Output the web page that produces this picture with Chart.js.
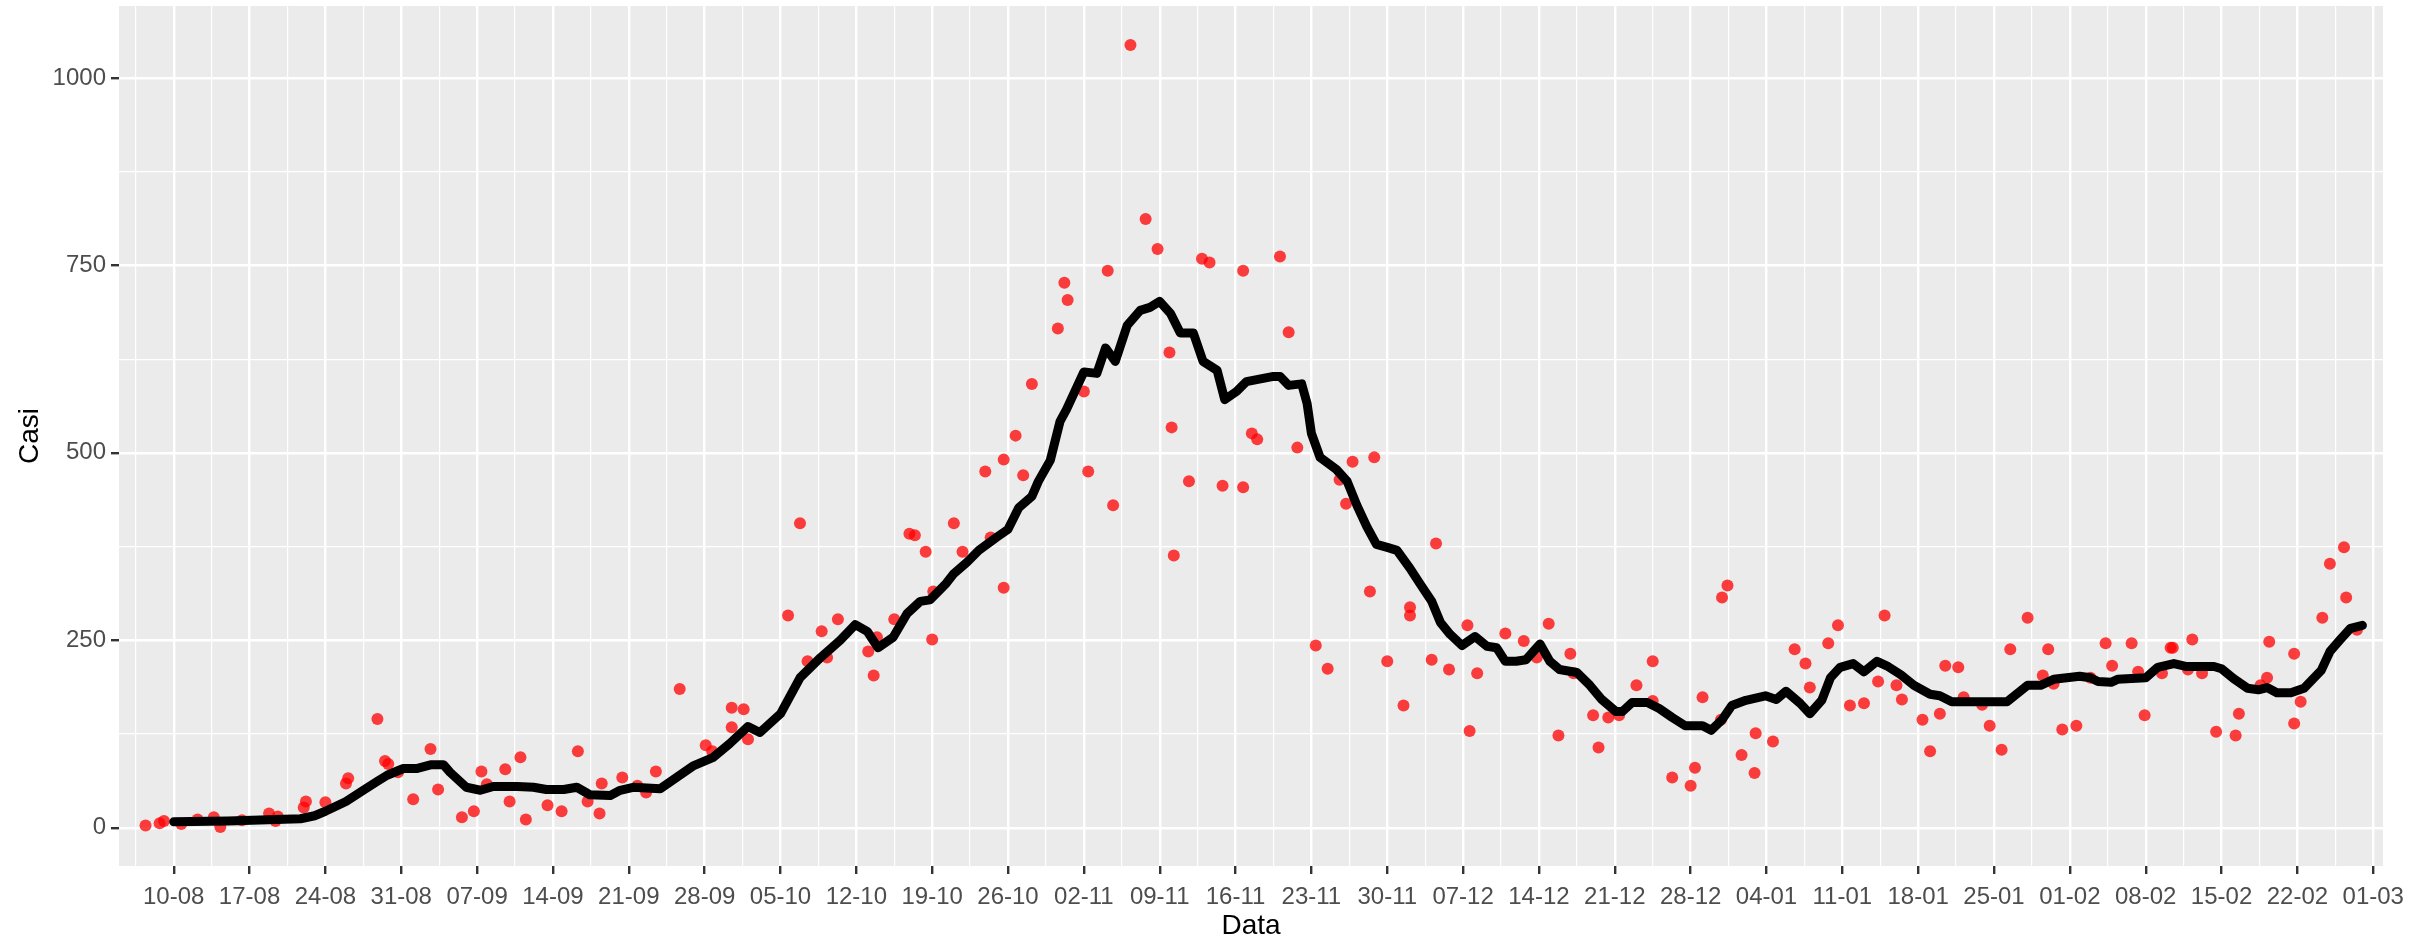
<!DOCTYPE html>
<html>
<head>
<meta charset="utf-8">
<script src="https://cdn.jsdelivr.net/npm/chart.js@4.4.0/dist/chart.umd.min.js"></script>
<style>
  html, body { margin: 0; padding: 0; background: #ffffff; }
  canvas { display: block; }
</style>
</head>
<body>
<canvas id="casiChart" width="2428" height="943"></canvas>
<script>
// Etichette delle date (una ogni 7 giorni, giorno 0 = 10-08)
const tickLabels = ['10-08', '17-08', '24-08', '31-08', '07-09', '14-09', '21-09', '28-09', '05-10', '12-10',
    '19-10', '26-10', '02-11', '09-11', '16-11', '23-11', '30-11', '07-12', '14-12', '21-12',
    '28-12', '04-01', '11-01', '18-01', '25-01', '01-02', '08-02', '15-02', '22-02', '01-03'];
const yLabels = [0, 250, 500, 750, 1000];

// Casi giornalieri (punti rossi, con jitter orizzontale)
const pointDays = [-2.6, -1.3, -0.9, 0.7, 2.2, 3.7, 4.3, 6.3, 8.8, 9.4, 9.6, 12.0, 12.2, 14.0, 15.9, 16.1, 18.8, 19.5, 19.8, 20.7, 22.1,
    23.7, 24.4, 26.6, 27.7, 28.4, 28.9, 30.6, 31.0, 32.0, 32.5, 34.5, 35.8, 37.3, 38.2, 39.3, 39.5, 41.4, 42.8, 43.6, 44.5, 46.7,
    49.1, 49.7, 51.5, 51.5, 52.6, 53.0, 56.7, 57.8, 58.5, 59.8, 60.3, 61.3, 64.1, 64.6, 64.9, 66.5, 67.9, 68.4, 69.4, 70.0, 70.1, 72.0, 72.8,
    74.9, 75.4, 76.6, 76.6, 77.7, 78.4, 79.2, 81.6, 82.2, 82.5, 84.0, 84.4, 86.2, 86.7, 88.3, 89.7, 90.8, 91.9, 92.1, 92.3, 93.7, 94.9, 95.6, 96.8, 98.7, 98.7, 99.5, 100.0,
    102.1, 102.9, 103.7, 105.4, 106.5, 107.6, 108.2, 108.8, 110.4, 110.8, 112.0, 113.5, 114.1, 114.1, 116.1, 116.5, 117.7, 119.4, 119.6, 120.3, 122.9, 124.6, 125.8,
    126.9, 127.8, 128.9, 129.2, 131.0, 131.5, 132.4, 133.4, 135.0, 136.5, 136.5, 138.3, 140.0, 140.4, 141.1, 142.8, 142.9, 143.4, 144.7, 145.9, 146.0, 147.6, 149.6, 150.6, 151.0,
    152.7, 153.6, 154.7, 156.0, 157.3, 157.9, 159.0, 159.5, 161.4, 162.1, 163.0, 163.5, 164.7, 165.2, 166.9, 167.6, 168.7, 169.5, 171.1, 172.5, 173.0, 173.5, 174.3, 175.6, 176.9,
    178.3, 178.9, 180.7, 181.3, 181.9, 183.5, 184.3, 184.5, 185.9, 186.3, 187.2, 188.5, 190.3, 190.6, 192.6, 193.2, 193.4, 195.7, 195.7, 196.3, 198.3, 199.0, 200.3, 200.5, 201.5];
const pointValues = [3, 6, 9, 5, 11, 14, 1, 10, 19, 9, 15, 27, 35, 34, 59, 66, 145, 89, 85, 74, 38,
    105, 51, 14, 22, 75, 58, 78, 35, 94, 11, 30, 22, 102, 35, 19, 59, 67, 56, 47, 75, 185,
    110, 102, 160, 134, 158, 118, 283, 406, 222, 262, 227, 278, 235, 203, 254, 278, 392, 390, 368, 251, 315, 406, 368,
    475, 387, 320, 491, 523, 470, 592, 666, 727, 704, 582, 475, 743, 430, 1044, 812, 772, 634, 534, 363, 462, 759, 754, 456, 743, 454, 526, 518,
    762, 661, 507, 243, 212, 464, 432, 488, 315, 494, 222, 163, 294, 283, 224, 379, 211, 270, 129, 206, 259, 249, 227,
    272, 123, 232, 206, 150, 107, 147, 150, 190, 222, 169, 67, 56, 80, 174, 144, 307, 323, 97, 73, 126, 115, 238, 219, 187,
    246, 270, 163, 166, 195, 283, 190, 171, 144, 102, 152, 216, 214, 174, 164, 136, 104, 238, 280, 203, 238, 192, 131, 136, 200,
    246, 216, 246, 208, 150, 206, 240, 240, 211, 251, 206, 128, 123, 152, 190, 200, 248, 232, 139, 168, 280, 352, 374, 307, 264];

// Media mobile (linea nera)
const lineDays = [0, 5, 11.7, 13, 14, 15.9, 17.5, 18.8, 19.7, 21.2, 22.4, 23.7, 24.9, 25.5, 27.0, 28.3, 29.5, 31.7, 33.2, 34.4, 36.0, 37.2, 38.4, 40.3, 41.2, 42.4, 44.9, 46.7, 48.0,
    49.8, 51.3, 53.0, 54.1, 56.0, 57.8, 59.7, 61.5, 62.9, 64.0, 65.0, 66.4, 67.7, 68.9, 69.8, 71.3, 72.0, 73.2, 74.3, 75.9, 77.0, 78.0, 79.2, 79.8, 80.9, 81.8, 82.4,
    84.0, 85.2, 86.0, 86.9, 88.0, 89.2, 90.1, 91.0, 92.0, 92.9, 94.1, 95.0, 96.3, 97.0, 98.1, 99.0, 101.5, 102.1, 102.9, 104.1, 104.6, 105.0, 105.8, 107.3, 108.3,
    109.2, 110.1, 111.0, 112.0, 112.9, 114.1, 115.0, 116.1, 116.9, 117.8, 118.9, 120.1, 121.2, 122.1, 122.9, 123.9, 124.8, 126.1, 127.0, 127.9, 129.5, 130.7, 131.8,
    133.1, 133.7, 134.6, 136.0, 137.1, 138.3, 139.5, 141.1, 141.9, 142.9, 143.8, 145.1, 146.9, 147.9, 148.8, 150.1, 151.0, 152.1, 152.9, 153.8, 155.0, 156.0, 157.2,
    158.1, 159.4, 160.6, 162.1, 163.0, 164.1, 169.2, 171.1, 172.3, 173.5, 174.7, 175.9, 176.9, 177.6, 178.8, 179.4, 182.0, 183.1, 184.6, 185.8, 188.3, 189.0, 190.1,
    191.4, 192.4, 193.2, 194.1, 195.4, 196.6, 198.2, 199.0, 199.9, 200.9, 202.0];
const lineValues = [8, 9, 12, 16, 22, 35, 50, 62, 70, 79, 79, 84, 84, 74, 54, 50, 55, 55, 54, 51, 51, 54, 44, 43, 50, 54, 52, 70, 83,
    94, 112, 135, 127, 152, 200, 227, 250, 271, 262, 240, 254, 286, 302, 304, 326, 339, 354, 370, 387, 398, 427, 442, 462, 490, 542, 558,
    608, 606, 640, 622, 670, 690, 694, 702, 686, 660, 660, 622, 610, 571, 582, 595, 602, 602, 590, 592, 566, 526, 494, 478, 462,
    430, 402, 378, 374, 370, 346, 326, 302, 274, 258, 243, 255, 242, 240, 222, 222, 224, 245, 222, 211, 207, 190, 171,
    155, 155, 167, 167, 159, 147, 136, 136, 130, 144, 163, 170, 176, 171, 182, 166, 152, 170, 200, 214, 219, 208, 222,
    216, 204, 190, 178, 176, 168, 168, 190, 190, 198, 200, 202, 200, 195, 194, 198, 200, 214, 219, 215, 215, 212, 199,
    186, 184, 187, 180, 180, 186, 210, 235, 250, 266, 270];

const majorX = tickLabels.map((_, i) => i * 7);
const minorX = majorX.map(d => d - 3.5);
const xTicks = [...minorX, ...majorX].sort((a, b) => a - b);
const yTicks = [];
yLabels.forEach(v => { yTicks.push(v); if (v < 1000) yTicks.push(v + 125); });

// Sfondo grigio del pannello (stile ggplot)
const panelBg = {
    id: 'panelBg',
    beforeDraw(chart) {
        const { ctx, chartArea: { left, top, right, bottom } } = chart;
        ctx.save();
        ctx.fillStyle = '#EBEBEB';
        ctx.fillRect(left, top, right - left, bottom - top);
        ctx.restore();
    }
};

const isMajorX = v => majorX.includes(v);
const isMajorY = v => yLabels.includes(v);

const ctx = document.getElementById('casiChart').getContext('2d');
new Chart(ctx, {
    type: 'scatter',
    data: {
        datasets: [{
            data: lineDays.map((d, i) => ({ x: d, y: lineValues[i] })),
            showLine: true,
            borderColor: '#000000',
            borderWidth: 9,
            borderCapStyle: 'round',
            borderJoinStyle: 'round',
            pointRadius: 0,
            tension: 0,
            order: 0
        }, {
            data: pointDays.map((d, i) => ({ x: d, y: pointValues[i] })),
            pointRadius: 6,
            pointBorderWidth: 0,
            pointBackgroundColor: 'rgba(255, 0, 0, 0.75)',
            pointBorderColor: 'rgba(255, 0, 0, 0)',
            order: 1
        }]
    },
    options: {
        responsive: false,
        animation: false,
        layout: { padding: { left: 0, top: 5, right: 45, bottom: 0 } },
        plugins: {
            legend: { display: false },
            tooltip: { enabled: false }
        },
        scales: {
            x: {
                type: 'linear',
                min: -5.05,
                max: 203.9,
                afterBuildTicks: scale => { scale.ticks = xTicks.map(v => ({ value: v })); },
                afterFit: scale => {
                    scale.height = 77;
                    scale.paddingLeft = 0;
                    scale.paddingRight = 0;
                },
                border: { display: false },
                grid: {
                    color: '#FFFFFF',
                    lineWidth: c => (c.tick && isMajorX(c.tick.value)) ? 2.4 : 1.2,
                    tickLength: 8,
                    tickWidth: 2.4,
                    tickColor: c => (c.tick && isMajorX(c.tick.value)) ? '#333333' : 'rgba(0,0,0,0)'
                },
                ticks: {
                    autoSkip: false,
                    maxRotation: 0,
                    padding: 9,
                    color: '#4D4D4D',
                    font: { family: '"Liberation Sans", Arial, sans-serif', size: 24 },
                    callback: v => isMajorX(v) ? tickLabels[majorX.indexOf(v)] : ''
                },
                title: {
                    display: true,
                    text: 'Data',
                    color: '#000000',
                    padding: { top: 0, bottom: 0 },
                    font: { family: '"Liberation Sans", Arial, sans-serif', size: 28 }
                }
            },
            y: {
                min: -51,
                max: 1096,
                afterBuildTicks: scale => { scale.ticks = yTicks.map(v => ({ value: v })); },
                afterFit: scale => {
                    scale.width = 119;
                    scale.paddingTop = 0;
                    scale.paddingBottom = 0;
                },
                border: { display: false },
                grid: {
                    color: '#FFFFFF',
                    lineWidth: c => (c.tick && isMajorY(c.tick.value)) ? 2.4 : 1.2,
                    tickLength: 8,
                    tickWidth: 2.4,
                    tickColor: c => (c.tick && isMajorY(c.tick.value)) ? '#333333' : 'rgba(0,0,0,0)'
                },
                ticks: {
                    autoSkip: false,
                    padding: 5,
                    color: '#4D4D4D',
                    font: { family: '"Liberation Sans", Arial, sans-serif', size: 24 },
                    callback: v => isMajorY(v) ? String(v) : ''
                },
                title: {
                    display: true,
                    text: 'Casi',
                    color: '#000000',
                    padding: { top: 13, bottom: 0 },
                    font: { family: '"Liberation Sans", Arial, sans-serif', size: 28 }
                }
            }
        }
    },
    plugins: [panelBg]
});
</script>
</body>
</html>
